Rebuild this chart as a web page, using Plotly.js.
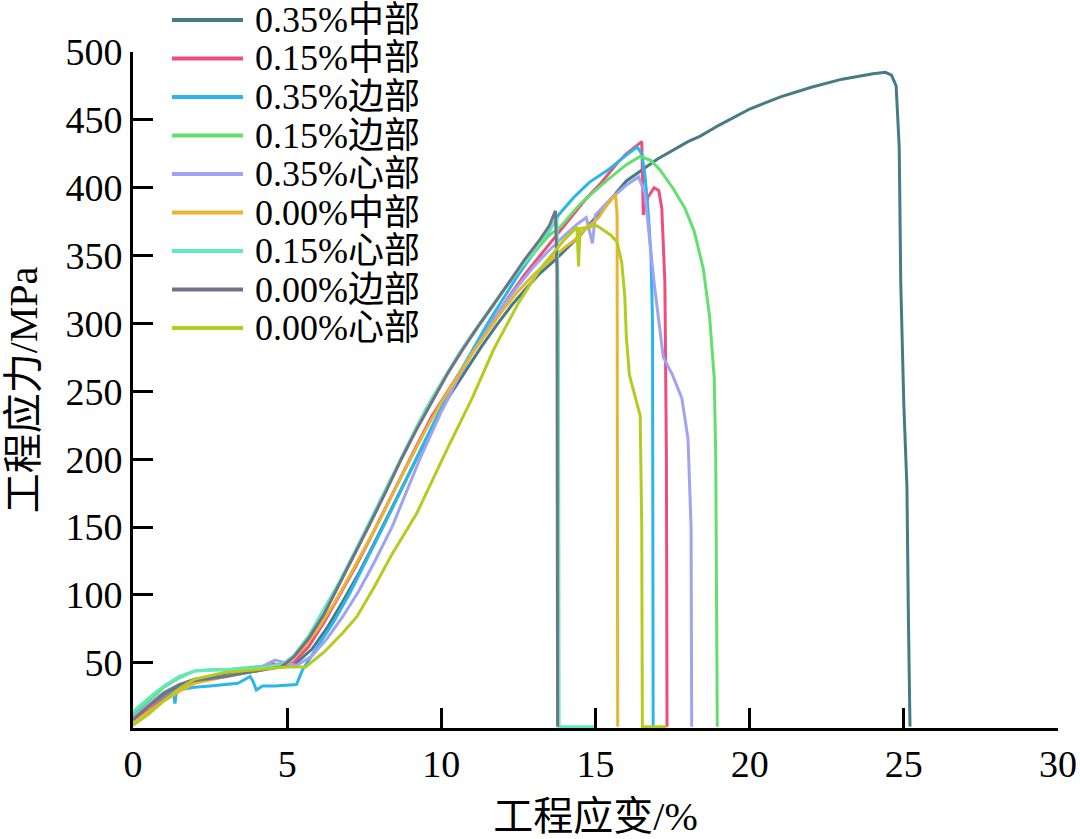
<!DOCTYPE html>
<html>
<head>
<meta charset="utf-8">
<script src="https://cdn.plot.ly/plotly-3.0.1.min.js"></script>
<style>
  html, body { margin: 0; padding: 0; background: #fff; }
  #chart { width: 1080px; height: 839px; }
</style>
</head>
<body>
<div id="chart"></div>
<script>
// series names, in legend order
const names = ['0.35%中部', '0.15%中部', '0.35%边部', '0.15%边部', '0.35%心部', '0.00%中部', '0.15%心部', '0.00%边部', '0.00%心部'];

// engineering strain (%) / engineering stress (MPa)
const x035mid = [0,0.5,1,1.5,2,3,4,4.5,5.3,5.8,6.3,6.8,7.3,7.8,8.3,8.8,9.3,9.8,10.3,10.8,11.3,11.8,12.3,12.8,13.2,13.7,14.5,15,16,17,18,18.4,19,20,21,22,23,24,24.4,24.6,24.75,24.85,24.9,25,25.1,25.15,25.2];
const y035mid = [10,19,28,34,38,41,44,48,50,60,76,95,115,137,160,183,206,228,248,266,283,299,314,327,337,347,365,378,405,421,434,438,446,458,467,474,480,484,485,483,475,430,330,240,180,80,3];

const x015mid = [0,0.5,1,1.5,2,3,4,4.5,4.8,5.2,5.7,6.2,6.7,7.2,7.7,8.2,8.7,9.2,9.7,10.2,10.7,11.2,11.7,12.2,12.7,13.2,13.7,14.2,14.7,15.2,15.7,16,16.3,16.5,16.55,16.7,16.9,17.05,17.15,17.25,17.3,17.32];
const y015mid = [8,15,24,31,36,40,45,50,47,50,62,80,100,120,142,165,188,210,232,250,268,286,303,320,336,350,364,378,392,404,418,425,430,434,380,393,400,398,385,330,200,3];

const x035edge = [0,0.5,1,1.3,1.36,1.42,2,2.5,3,3.4,3.8,3.9,4,4.2,4.6,5.3,5.5,6,6.5,7,7.5,8,8.5,9,9.5,10,10.5,11,11.5,12,12.5,13,13.5,13.8,14.3,14.8,15.4,16,16.35,16.5,16.6,16.7,16.8,16.85,16.87];
const y035edge = [10,18,26,30,20,30,32,33,34,35,40,36,30,33,33,34,45,62,80,100,122,145,168,192,215,238,260,280,300,318,336,352,368,380,393,404,413,424,430,425,410,385,350,300,3];

const x015edge = [0,0.5,1,1.5,2,2.5,3,3.5,4,4.5,5,5.5,6,6.5,7,7.5,8,8.5,9,9.5,10,10.5,11,11.5,12,12.5,13,13.5,13.85,14.5,15,15.4,16,16.45,16.8,17.1,17.5,17.9,18.2,18.5,18.7,18.85,18.9,18.95];
const y015edge = [12,22,32,39,44,45,45,46,47,48,50,62,80,100,122,145,168,192,215,237,256,275,292,308,324,339,352,365,371,388,398,406,417,423,420,413,400,385,368,340,305,260,200,3];

const x035core = [0,0.5,1,1.5,2,3,4,4.6,5.3,5.8,6.3,6.8,7.3,7.8,8.4,9.3,10,10.5,11,11.5,12,12.5,13,13.5,14,14.4,14.7,14.9,15,15.5,16,16.4,16.6,16.9,17.2,17.5,17.8,18,18.1,18.12];
const y035core = [10,19,27,33,37,40,45,52,48,55,68,84,102,123,150,200,235,258,278,296,313,328,342,354,365,373,378,359,380,392,402,408,396,330,275,262,245,215,150,3];

const x000mid = [0,0.5,1,1.5,2,3,4,4.5,5,5.5,6,6.5,7,7.5,8,8.5,9,9.5,10,10.5,11,11.5,12,12.5,13,13.5,14,14.3,14.6,15.1,15.4,15.65,15.7,15.72];
const y000mid = [6,14,22,29,35,40,44,46,50,60,75,93,113,134,155,178,200,222,242,260,278,294,310,324,336,346,356,361,368,378,388,395,380,3];

const x015core = [0,0.5,1,1.5,2,3,4,4.8,5.2,5.7,6.2,6.7,7.2,7.7,8.2,8.7,9.2,9.7,10.2,10.7,11.2,11.7,12.2,12.7,13.2,13.6,13.75,13.8,13.82,15];
const y015core = [14,24,33,40,44,45,46,48,55,70,90,110,132,155,178,202,224,245,264,282,298,314,330,345,360,372,378,300,3,3];

const x000edge = [0,0.5,1,1.5,2,3,4,4.8,5.2,5.7,6.2,6.7,7.2,7.7,8.2,8.7,9.2,9.7,10.2,10.7,11.2,11.7,12.2,12.7,13.2,13.5,13.7,13.75,13.77];
const y000edge = [8,18,27,33,37,40,44,47,54,68,86,108,130,153,176,200,222,243,263,281,298,314,331,347,362,372,383,340,3];

const x000core = [0,0.5,1,1.5,2,3,4,5,5.6,6.2,6.8,7.26,7.8,8.4,9.2,10.2,11,11.7,12.5,13.2,14,14.4,14.45,14.5,15.05,15.5,15.7,15.85,15.95,16,16.1,16.3,16.45,16.5,16.52,17.3];
const y000core = [4,12,22,31,38,43,45,47,47,58,72,84,105,130,160,208,245,281,315,340,362,371,342,370,372,365,360,345,320,290,262,245,232,150,3,3];

const xs = [x035mid, x015mid, x035edge, x015edge, x035core, x000mid, x015core, x000edge, x000core];
const ys = [y035mid, y015mid, y035edge, y015edge, y035core, y000mid, y015core, y000edge, y000core];
const colors = ['#467b85', '#ee4d7e', '#2bb6ea', '#63df6e', '#9fa3f2', '#e8b532', '#62e9c1', '#6f7486', '#b5cb1f'];

const serif = '"Liberation Serif", "Times New Roman", "Noto Sans CJK SC", serif';

const traces = names.map((n, i) => ({
  type: 'scatter', mode: 'lines', name: n, x: xs[i], y: ys[i],
  line: {color: colors[i], width: 3}, showlegend: false, hoverinfo: 'x+y+name'
}));

// hand-made legend so the rows sit as tight as in the original
const plotL = 133, plotR = 1058, plotT = 52, plotB = 728;
const px = p => (p - plotL) / (plotR - plotL);
const py = p => (plotB - p) / (plotB - plotT);
const shapes = [], annotations = [];
names.forEach((n, i) => {
  const yy = py(20 + i * 38.5);
  shapes.push({type: 'line', xref: 'paper', yref: 'paper', x0: px(172), x1: px(243), y0: yy, y1: yy,
    line: {color: colors[i], width: 4}});
  annotations.push({xref: 'paper', yref: 'paper', x: px(253), y: yy, xanchor: 'left', yanchor: 'middle',
    text: n, showarrow: false, font: {family: serif, size: 36, color: '#000'}});
});

const axisBase = {
  showline: true, linecolor: '#000', linewidth: 3, ticks: 'inside', ticklen: 20, tickwidth: 3, tickcolor: '#000',
  showgrid: false, zeroline: false, tickfont: {family: serif, size: 38, color: '#000'}
};

const layout = {
  width: 1080, height: 839,
  margin: {l: plotL, r: 1080 - plotR, t: plotT, b: 839 - plotB},
  paper_bgcolor: '#fff', plot_bgcolor: '#fff',
  showlegend: false,
  xaxis: Object.assign({}, axisBase, {range: [0, 30], tick0: 0, dtick: 5,
    title: {text: '工程应变/%', font: {family: serif, size: 40, color: '#000'}, standoff: 26}}),
  yaxis: Object.assign({}, axisBase, {range: [2, 500], tick0: 0, dtick: 50,
    title: {text: '工程应力/MPa', font: {family: serif, size: 40, color: '#000'}, standoff: 16}}),
  shapes: shapes,
  annotations: annotations
};

Plotly.newPlot('chart', traces, layout, {displayModeBar: false, staticPlot: true});
</script>
</body>
</html>
